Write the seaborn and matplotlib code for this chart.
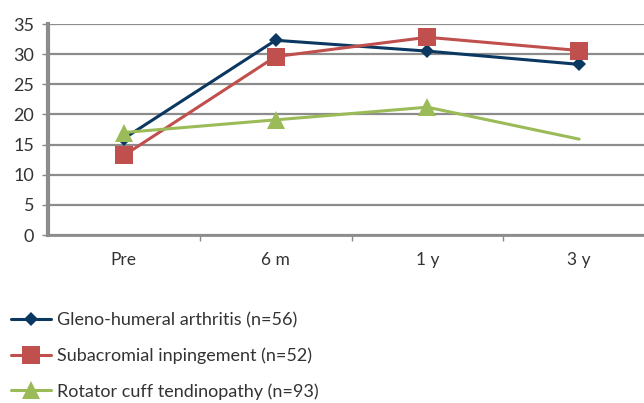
import matplotlib
matplotlib.use("Agg")
import matplotlib.pyplot as plt
import seaborn as sns
import pandas as pd

categories = ["Pre", "6 m", "1 y", "3 y"]
gleno = [16.0, 32.3, 30.5, 28.3]
subacromial = [13.2, 29.6, 32.8, 30.6]
rotator = [17.0, 19.1, 21.2, 15.9]
labels = ["Gleno-humeral arthritis (n=56)", "Subacromial inpingement (n=52)",
          "Rotator cuff tendinopathy (n=93)"]
yticks = [0, 5, 10, 15, 20, 25, 30, 35]

sns.set_style("white")
plt.rcParams['font.family'] = ['Lato', 'DejaVu Sans']

W, H = 644, 403
fig = plt.figure(figsize=(W / 100, H / 100), dpi=100)
left, right, top, bottom = 48, 655, 24, 235
ax = fig.add_axes([left / W, (H - bottom) / H, (right - left) / W, (bottom - top) / H])

colors = ["#0B3861", "#C0504D", "#9BBB59"]
styles = [dict(marker="D", markersize=7), dict(marker="s", markersize=12.5),
          dict(marker="^", markersize=13, markevery=[0, 1, 2])]
series = [gleno, subacromial, rotator]
for vals, lab, c, st in zip(series, labels, colors, styles):
    df = pd.DataFrame({"x": categories, "y": vals})
    sns.lineplot(data=df, x="x", y="y", ax=ax, color=c, linewidth=2.2,
                 label=lab, markeredgewidth=0, clip_on=False, **st)

ax.set_xlim(-0.5, 3.5)
ax.set_ylim(0, 35)
ax.set_yticks(yticks)
ax.set_yticklabels([str(v) for v in yticks], fontsize=13, color="#333333")
ax.set_xticks(range(4))
ax.set_xticklabels(categories, fontsize=12.5, color="#333333")
ax.set_xticks([0.5, 1.5, 2.5], minor=True)
ax.tick_params(axis="x", which="major", length=0, pad=12)
ax.tick_params(axis="x", which="minor", length=4, width=1, color="#888888", direction="out", bottom=True)
ax.tick_params(axis="y", which="major", length=4, width=1, color="#888888", pad=6, left=True)
ax.set_xlabel("")
ax.set_ylabel("")
ax.grid(axis="y", color="#8C8C8C", linewidth=1.6)
ax.set_axisbelow(True)
for s in ["top", "right"]:
    ax.spines[s].set_visible(False)
ax.spines["left"].set_color("#8C8C8C")
ax.spines["left"].set_linewidth(3)
ax.spines["bottom"].set_color("#8C8C8C")
ax.spines["bottom"].set_linewidth(2)

handles, labs = ax.get_legend_handles_labels()
ax.get_legend().remove()
fig.legend(handles, labs, loc="upper left", bbox_to_anchor=(2 / W, 1 - 303 / H),
           frameon=False, fontsize=13, handlelength=2.2, handletextpad=0.35,
           labelspacing=1.06, labelcolor="#333333", borderpad=0)

fig.savefig("out.png", dpi=100)
